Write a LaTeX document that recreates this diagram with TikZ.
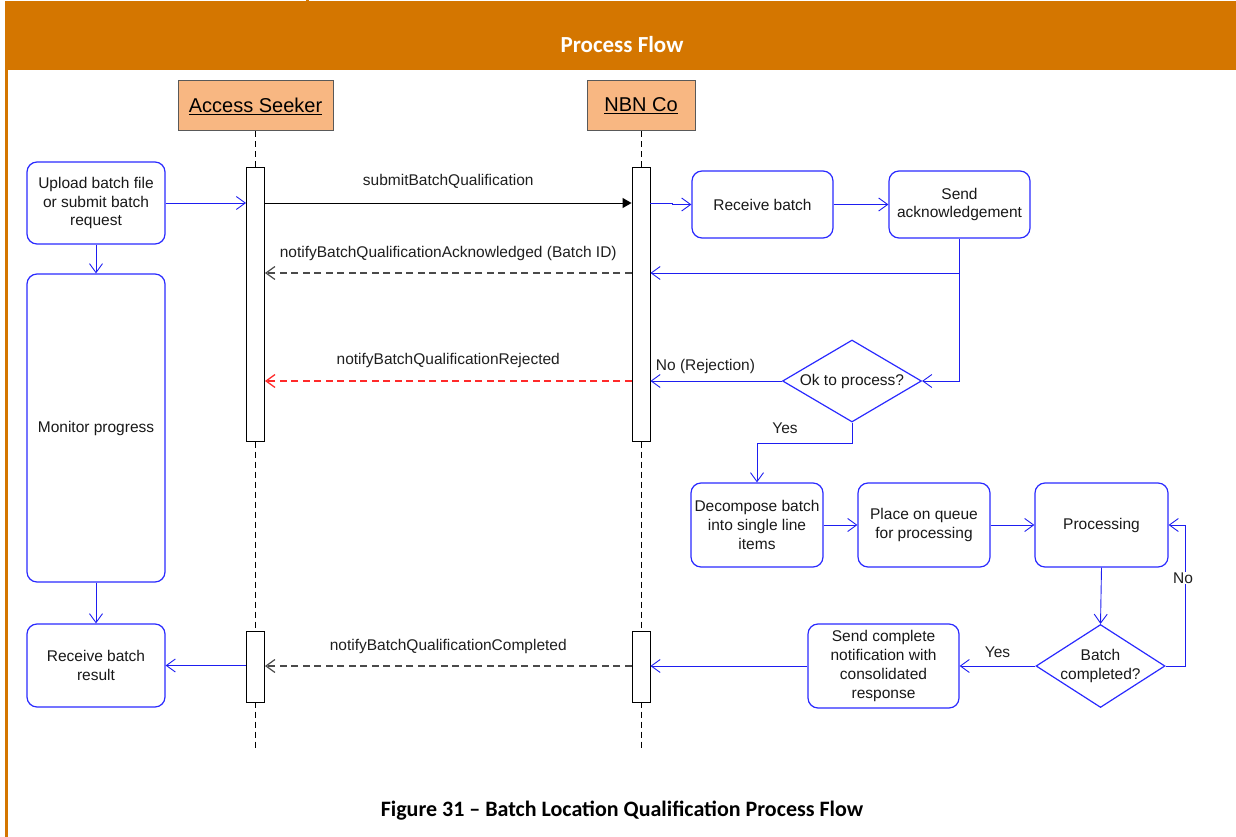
\documentclass[tikz,border=0pt]{standalone}
\usepackage{fontspec}
\setmainfont{Liberation Sans}
\newfontfamily\calibri{Carlito}
\usetikzlibrary{arrows.meta,shapes.geometric,calc}
\definecolor{hdr}{HTML}{D47600}
\definecolor{actorfill}{HTML}{F8B782}
\definecolor{boxblue}{HTML}{2A2AFF}
\definecolor{lineblue}{HTML}{1E1EF0}
\definecolor{rejred}{HTML}{FF2A2A}
\definecolor{msggray}{HTML}{4A4A4A}
\newcommand\boxfont{\fontsize{15.5}{18.8}\selectfont}
\newcommand\actorfont{\fontsize{20}{24}\selectfont}
\newcommand\headfont{\calibri\bfseries\fontsize{22}{26}\selectfont}
\newcommand\titlefont{\calibri\bfseries\fontsize{23}{27}\selectfont}
\begin{document}
\begin{tikzpicture}[x=1pt,y=-1pt,
  procbox/.style={draw=boxblue, line width=1.2pt, rounded corners=10pt, align=center,
     font=\boxfont, inner sep=0pt, fill=white, text=black!90},
  decbox/.style={draw=boxblue, line width=1.2pt, diamond, inner sep=0pt, fill=white},
  flow/.style={draw=lineblue, line width=0.9pt, -{Straight Barb[length=9pt,width=13pt]}},
  submitmsg/.style={draw=black, line width=0.9pt, -{Triangle[length=9pt,width=10pt]}},
  retmsg/.style={draw=msggray, line width=1.2pt, dash pattern=on 7pt off 4.5pt,
     -{Straight Barb[length=9pt,width=13pt]}},
  rejmsg/.style={draw=rejred, line width=1.3pt, dash pattern=on 7pt off 4.5pt,
     -{Straight Barb[length=9pt,width=13pt]}},
  lifeline/.style={draw=black, line width=0.9pt, dash pattern=on 6pt off 4pt},
  actbar/.style={draw=black, fill=white, line width=0.9pt, minimum width=18pt, inner sep=0pt},
  actor/.style={draw=black!65, fill=actorfill, line width=1pt, font=\actorfont, inner sep=0pt},
  lbl/.style={font=\boxfont, text=black!88, inner sep=1pt}
]
\useasboundingbox (0,0) rectangle (1236,837);

% frame
\fill[hdr] (5,1) rectangle (1236,70);
\fill[hdr] (5,1) rectangle (7.5,837);
\fill[hdr] (306,0) rectangle (308.5,1);
\node[font=\titlefont, text=white] (title) at (622,45) {Process Flow};
\node[font=\headfont, text=black] (caption) at (622,811) {Figure 31 – Batch Location Qualification Process Flow};

% actors
\node[actor, minimum width=155pt, minimum height=50pt] (as) at (255.5,106) {\underline{Access Seeker}};
\node[actor, minimum width=108pt, minimum height=50pt] (nbn) at (641,106) {\underline{NBN Co}};
\coordinate (endY) at (0,750);
\draw[lifeline] (as.south) -- (as.south |- endY);
\draw[lifeline] (nbn.south) -- (nbn.south |- endY);

% activation bars
\node[actbar, minimum height=274pt] (as1) at (255.5,304) {};
\node[actbar, minimum height=274pt] (nbn1) at (641,304) {};
\node[actbar, minimum height=71pt] (as2) at (255.5,666.5) {};
\node[actbar, minimum height=71pt] (nbn2) at (641,666.5) {};

% left column
\node[procbox, minimum width=138pt, minimum height=82pt] (up) at (96,203) {Upload batch file\\or submit batch\\request};
\node[procbox, minimum width=138pt, minimum height=308pt] (mon) at (96,428) {Monitor progress};
\node[procbox, minimum width=138pt, minimum height=83pt] (rr) at (96,665.5) {Receive batch\\result};

% right side
\node[procbox, minimum width=141pt, minimum height=67pt] (rb) at (762.5,204.5) {Receive batch};
\node[procbox, minimum width=141pt, minimum height=67pt] (sa) at (959.5,204.5) {Send\\acknowledgement};
\node[decbox, minimum width=139pt, minimum height=82pt,
  label={[font=\boxfont, text=black!90]center:Ok to process?}] (ok) at (852,381) {};
\node[procbox, minimum width=132pt, minimum height=84pt] (dc) at (757,525) {Decompose batch\\into single line\\items};
\node[procbox, minimum width=132pt, minimum height=84pt] (pq) at (924,525) {Place on queue\\for processing};
\node[procbox, minimum width=133pt, minimum height=84pt] (pr) at (1101.5,525) {Processing};
\node[decbox, minimum width=129pt, minimum height=83pt,
  label={[font=\boxfont, text=black!90, align=center]center:{Batch\\completed?}}] (bc) at (1100.5,666) {};
\node[procbox, minimum width=151pt, minimum height=84pt] (sc) at (883.5,666) {Send complete\\notification with\\consolidated\\response};

% left flows
\draw[flow] (up.east) -- (as1.west |- up.east);
\draw[flow] (up.south) -- (mon.north);
\draw[flow] (mon.south) -- (rr.north);
\draw[flow] (as2.west |- rr.east) -- (rr.east);

% messages
\coordinate (ackY) at (0,273);
\draw[submitmsg] (as1.east |- up.east) -- (nbn1.west |- up.east)
  node[lbl, midway, yshift=22pt] (m1) {submitBatchQualification};
\draw[retmsg] (nbn1.west |- ackY) -- (as1.east |- ackY)
  node[lbl, midway, yshift=20pt] (m2) {notifyBatchQualificationAcknowledged (Batch ID)};
\draw[rejmsg] (nbn1.west |- ok.west) -- (as1.east |- ok.west)
  node[lbl, midway, yshift=21pt] (m3) {notifyBatchQualificationRejected};
\draw[retmsg] (nbn2.west |- sc.west) -- (as2.east |- sc.west)
  node[lbl, midway, yshift=20pt] (m4) {notifyBatchQualificationCompleted};

% NBN side flows
\draw[flow] (nbn1.east |- up.east) -- ++(22,0) |- (rb.west);
\draw[flow] (rb.east) -- (sa.west);
\draw[flow] (sa.south) |- (nbn1.east |- ackY);
\draw[flow] (sa.south) |- (ok.east);
\draw[flow] (ok.west) -- (nbn1.east |- ok.west);
\node[lbl] (norej) at (705.5,366) {No (Rejection)};
\draw[flow] (ok.south) -- ++(0,21) -| (dc.north);
\node[lbl] (yes1) at (785,428) {Yes};
\draw[flow] (dc.east) -- (pq.west);
\draw[flow] (pq.east) -- (pr.west);
\draw[flow] (pr.south) -- (bc.north);
\draw[flow] (bc.east) -- ++(20,0) |- (pr.east);
\node[lbl, fill=white] (no2) at (1183,578) {No};
\draw[flow] (bc.west) -- (sc.east);
\node[lbl] (yes2) at (997.5,652) {Yes};
\draw[flow] (sc.west) -- (nbn2.east |- sc.west);
\end{tikzpicture}
\end{document}
